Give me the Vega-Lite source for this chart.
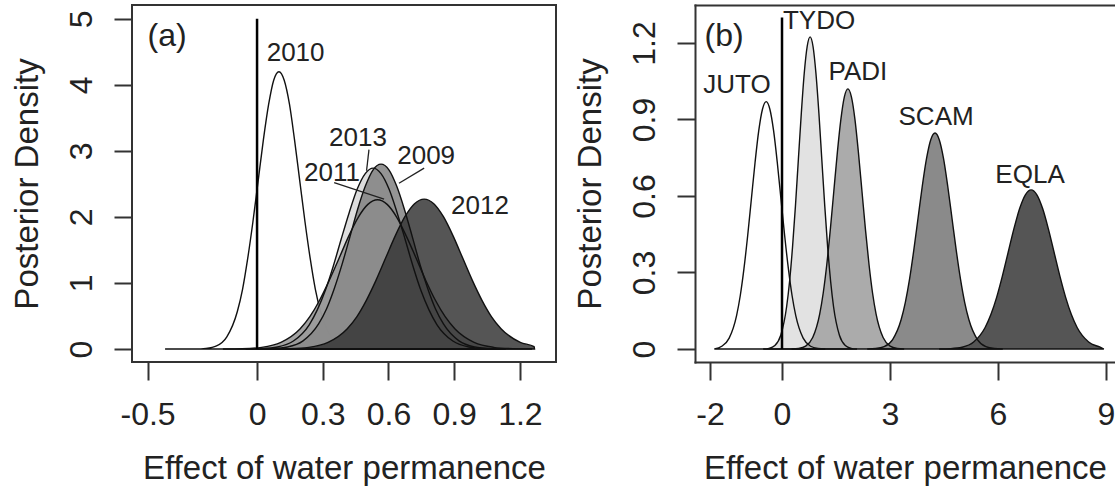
{
"$schema":"https://vega.github.io/schema/vega-lite/v6.json",
"background":"white",
"padding":{"left":10,"top":4,"right":0,"bottom":0},
"bounds":"flush",
"spacing":139,
"config":{
 "font":"Liberation Sans",
 "view":{"stroke":"#333","strokeWidth":2},
 "axis":{"grid":false,"domain":false,"tickColor":"#333","tickWidth":2,"tickSize":18,"labelFont":"Liberation Sans","labelFontSize":32,"labelColor":"#222","titleFont":"Liberation Sans","titleFontSize":33,"titleFontWeight":"normal","titleColor":"#222","labelOverlap":false,"labelFlush":false},
 "axisX":{"labelBaseline":"alphabetic","labelPadding":44,"titleBaseline":"alphabetic","titleY":116},
 "axisY":{"labelAngle":-90,"labelAlign":"center","labelBaseline":"alphabetic","labelPadding":23,"titleBaseline":"alphabetic","titleX":-95}
},
"datasets":{
 "a":[
 {"s":"2010","x":-0.42,"y":0},{"s":"2010","x":-0.28,"y":0},{"s":"2010","x":-0.233,"y":0.0092},{"s":"2010","x":-0.185,"y":0.0466},{"s":"2010","x":-0.138,"y":0.184},{"s":"2010","x":-0.09,"y":0.568},{"s":"2010","x":-0.066,"y":0.908},{"s":"2010","x":-0.043,"y":1.364},{"s":"2010","x":-0.019,"y":1.923},{"s":"2010","x":0.005,"y":2.547},{"s":"2010","x":0.029,"y":3.17},{"s":"2010","x":0.053,"y":3.707},{"s":"2010","x":0.076,"y":4.071},{"s":"2010","x":0.1,"y":4.2},{"s":"2010","x":0.124,"y":4.071},{"s":"2010","x":0.148,"y":3.707},{"s":"2010","x":0.171,"y":3.17},{"s":"2010","x":0.195,"y":2.547},{"s":"2010","x":0.219,"y":1.923},{"s":"2010","x":0.243,"y":1.364},{"s":"2010","x":0.266,"y":0.908},{"s":"2010","x":0.29,"y":0.568},{"s":"2010","x":0.338,"y":0.184},{"s":"2010","x":0.385,"y":0.0466},{"s":"2010","x":0.433,"y":0.0092},{"s":"2010","x":0.48,"y":0},
 {"s":"2013","x":-0.052,"y":0},{"s":"2013","x":0.02,"y":0.006},{"s":"2013","x":0.093,"y":0.0304},{"s":"2013","x":0.166,"y":0.1203},{"s":"2013","x":0.239,"y":0.3707},{"s":"2013","x":0.275,"y":0.5927},{"s":"2013","x":0.312,"y":0.8897},{"s":"2013","x":0.348,"y":1.2544},{"s":"2013","x":0.384,"y":1.6618},{"s":"2013","x":0.421,"y":2.0682},{"s":"2013","x":0.457,"y":2.4181},{"s":"2013","x":0.494,"y":2.6556},{"s":"2013","x":0.53,"y":2.74},{"s":"2013","x":0.566,"y":2.6556},{"s":"2013","x":0.603,"y":2.4181},{"s":"2013","x":0.639,"y":2.0682},{"s":"2013","x":0.676,"y":1.6618},{"s":"2013","x":0.712,"y":1.2544},{"s":"2013","x":0.748,"y":0.8897},{"s":"2013","x":0.785,"y":0.5927},{"s":"2013","x":0.821,"y":0.3707},{"s":"2013","x":0.894,"y":0.1203},{"s":"2013","x":0.967,"y":0.0304},{"s":"2013","x":1.04,"y":0.006},{"s":"2013","x":1.112,"y":0},
 {"s":"2009","x":-0.004,"y":0},{"s":"2009","x":0.067,"y":0.0061},{"s":"2009","x":0.139,"y":0.0311},{"s":"2009","x":0.21,"y":0.1229},{"s":"2009","x":0.281,"y":0.3788},{"s":"2009","x":0.317,"y":0.6056},{"s":"2009","x":0.352,"y":0.9092},{"s":"2009","x":0.388,"y":1.2818},{"s":"2009","x":0.424,"y":1.6982},{"s":"2009","x":0.459,"y":2.1134},{"s":"2009","x":0.495,"y":2.471},{"s":"2009","x":0.53,"y":2.7138},{"s":"2009","x":0.566,"y":2.8},{"s":"2009","x":0.602,"y":2.7138},{"s":"2009","x":0.637,"y":2.471},{"s":"2009","x":0.673,"y":2.1134},{"s":"2009","x":0.709,"y":1.6982},{"s":"2009","x":0.744,"y":1.2818},{"s":"2009","x":0.78,"y":0.9092},{"s":"2009","x":0.815,"y":0.6056},{"s":"2009","x":0.851,"y":0.3788},{"s":"2009","x":0.922,"y":0.1229},{"s":"2009","x":0.994,"y":0.0311},{"s":"2009","x":1.065,"y":0.0061},{"s":"2009","x":1.136,"y":0},
 {"s":"2011","x":-0.156,"y":0},{"s":"2011","x":-0.068,"y":0.0049},{"s":"2011","x":0.021,"y":0.0251},{"s":"2011","x":0.109,"y":0.0992},{"s":"2011","x":0.197,"y":0.3058},{"s":"2011","x":0.241,"y":0.4888},{"s":"2011","x":0.285,"y":0.7338},{"s":"2011","x":0.329,"y":1.0346},{"s":"2011","x":0.374,"y":1.3707},{"s":"2011","x":0.418,"y":1.7058},{"s":"2011","x":0.462,"y":1.9945},{"s":"2011","x":0.506,"y":2.1904},{"s":"2011","x":0.55,"y":2.26},{"s":"2011","x":0.594,"y":2.1904},{"s":"2011","x":0.638,"y":1.9945},{"s":"2011","x":0.682,"y":1.7058},{"s":"2011","x":0.727,"y":1.3707},{"s":"2011","x":0.771,"y":1.0346},{"s":"2011","x":0.815,"y":0.7338},{"s":"2011","x":0.859,"y":0.4888},{"s":"2011","x":0.903,"y":0.3058},{"s":"2011","x":0.991,"y":0.0992},{"s":"2011","x":1.08,"y":0.0251},{"s":"2011","x":1.168,"y":0.0049},{"s":"2011","x":1.256,"y":0},
 {"s":"2012","x":0.06,"y":0},{"s":"2012","x":0.148,"y":0.005},{"s":"2012","x":0.236,"y":0.0252},{"s":"2012","x":0.324,"y":0.0997},{"s":"2012","x":0.412,"y":0.3071},{"s":"2012","x":0.456,"y":0.491},{"s":"2012","x":0.499,"y":0.7371},{"s":"2012","x":0.543,"y":1.0392},{"s":"2012","x":0.587,"y":1.3768},{"s":"2012","x":0.631,"y":1.7134},{"s":"2012","x":0.675,"y":2.0033},{"s":"2012","x":0.719,"y":2.2001},{"s":"2012","x":0.763,"y":2.27},{"s":"2012","x":0.807,"y":2.2001},{"s":"2012","x":0.851,"y":2.0033},{"s":"2012","x":0.895,"y":1.7134},{"s":"2012","x":0.939,"y":1.3768},{"s":"2012","x":0.983,"y":1.0392},{"s":"2012","x":1.027,"y":0.7371},{"s":"2012","x":1.07,"y":0.491},{"s":"2012","x":1.114,"y":0.3071},{"s":"2012","x":1.202,"y":0.0997},{"s":"2012","x":1.265,"y":0.035},{"s":"2012","x":1.267,"y":0}
 ],
 "b":[
 {"s":"JUTO","x":-1.88,"y":0},{"s":"JUTO","x":-1.673,"y":0.0108},{"s":"JUTO","x":-1.468,"y":0.0426},{"s":"JUTO","x":-1.262,"y":0.1312},{"s":"JUTO","x":-1.159,"y":0.2098},{"s":"JUTO","x":-1.057,"y":0.315},{"s":"JUTO","x":-0.954,"y":0.4441},{"s":"JUTO","x":-0.851,"y":0.5883},{"s":"JUTO","x":-0.748,"y":0.7322},{"s":"JUTO","x":-0.646,"y":0.856},{"s":"JUTO","x":-0.543,"y":0.9401},{"s":"JUTO","x":-0.44,"y":0.97},{"s":"JUTO","x":-0.337,"y":0.9401},{"s":"JUTO","x":-0.234,"y":0.856},{"s":"JUTO","x":-0.132,"y":0.7322},{"s":"JUTO","x":-0.029,"y":0.5883},{"s":"JUTO","x":0.074,"y":0.4441},{"s":"JUTO","x":0.177,"y":0.315},{"s":"JUTO","x":0.279,"y":0.2098},{"s":"JUTO","x":0.382,"y":0.1312},{"s":"JUTO","x":0.588,"y":0.0426},{"s":"JUTO","x":0.793,"y":0.0108},{"s":"JUTO","x":0.999,"y":0.0021},{"s":"JUTO","x":1.204,"y":0},
 {"s":"TYDO","x":-0.524,"y":0},{"s":"TYDO","x":-0.361,"y":0.0027},{"s":"TYDO","x":-0.198,"y":0.0136},{"s":"TYDO","x":-0.035,"y":0.0537},{"s":"TYDO","x":0.128,"y":0.1656},{"s":"TYDO","x":0.21,"y":0.2648},{"s":"TYDO","x":0.291,"y":0.3974},{"s":"TYDO","x":0.373,"y":0.5603},{"s":"TYDO","x":0.454,"y":0.7424},{"s":"TYDO","x":0.536,"y":0.9239},{"s":"TYDO","x":0.617,"y":1.0802},{"s":"TYDO","x":0.699,"y":1.1863},{"s":"TYDO","x":0.78,"y":1.224},{"s":"TYDO","x":0.862,"y":1.1863},{"s":"TYDO","x":0.943,"y":1.0802},{"s":"TYDO","x":1.025,"y":0.9239},{"s":"TYDO","x":1.106,"y":0.7424},{"s":"TYDO","x":1.188,"y":0.5603},{"s":"TYDO","x":1.269,"y":0.3974},{"s":"TYDO","x":1.351,"y":0.2648},{"s":"TYDO","x":1.432,"y":0.1656},{"s":"TYDO","x":1.595,"y":0.0537},{"s":"TYDO","x":1.758,"y":0.0136},{"s":"TYDO","x":1.921,"y":0.0027},{"s":"TYDO","x":2.084,"y":0},
 {"s":"PADI","x":0.266,"y":0},{"s":"PADI","x":0.462,"y":0.0022},{"s":"PADI","x":0.657,"y":0.0113},{"s":"PADI","x":0.853,"y":0.0448},{"s":"PADI","x":1.048,"y":0.138},{"s":"PADI","x":1.146,"y":0.2206},{"s":"PADI","x":1.244,"y":0.3312},{"s":"PADI","x":1.341,"y":0.467},{"s":"PADI","x":1.439,"y":0.6186},{"s":"PADI","x":1.537,"y":0.7699},{"s":"PADI","x":1.635,"y":0.9002},{"s":"PADI","x":1.732,"y":0.9886},{"s":"PADI","x":1.83,"y":1.02},{"s":"PADI","x":1.928,"y":0.9886},{"s":"PADI","x":2.026,"y":0.9002},{"s":"PADI","x":2.123,"y":0.7699},{"s":"PADI","x":2.221,"y":0.6186},{"s":"PADI","x":2.319,"y":0.467},{"s":"PADI","x":2.417,"y":0.3312},{"s":"PADI","x":2.514,"y":0.2206},{"s":"PADI","x":2.612,"y":0.138},{"s":"PADI","x":2.808,"y":0.0448},{"s":"PADI","x":3.003,"y":0.0113},{"s":"PADI","x":3.199,"y":0.0022},{"s":"PADI","x":3.394,"y":0},
 {"s":"SCAM","x":2.366,"y":0},{"s":"SCAM","x":2.602,"y":0.0019},{"s":"SCAM","x":2.837,"y":0.0094},{"s":"SCAM","x":3.073,"y":0.0372},{"s":"SCAM","x":3.308,"y":0.1146},{"s":"SCAM","x":3.426,"y":0.1832},{"s":"SCAM","x":3.544,"y":0.275},{"s":"SCAM","x":3.661,"y":0.3878},{"s":"SCAM","x":3.779,"y":0.5137},{"s":"SCAM","x":3.897,"y":0.6393},{"s":"SCAM","x":4.015,"y":0.7475},{"s":"SCAM","x":4.132,"y":0.8209},{"s":"SCAM","x":4.25,"y":0.847},{"s":"SCAM","x":4.368,"y":0.8209},{"s":"SCAM","x":4.486,"y":0.7475},{"s":"SCAM","x":4.603,"y":0.6393},{"s":"SCAM","x":4.721,"y":0.5137},{"s":"SCAM","x":4.839,"y":0.3878},{"s":"SCAM","x":4.957,"y":0.275},{"s":"SCAM","x":5.074,"y":0.1832},{"s":"SCAM","x":5.192,"y":0.1146},{"s":"SCAM","x":5.428,"y":0.0372},{"s":"SCAM","x":5.663,"y":0.0094},{"s":"SCAM","x":5.899,"y":0.0019},{"s":"SCAM","x":6.134,"y":0},
 {"s":"EQLA","x":4.364,"y":0},{"s":"EQLA","x":4.684,"y":0.0014},{"s":"EQLA","x":5.003,"y":0.0069},{"s":"EQLA","x":5.323,"y":0.0274},{"s":"EQLA","x":5.642,"y":0.0844},{"s":"EQLA","x":5.802,"y":0.135},{"s":"EQLA","x":5.962,"y":0.2026},{"s":"EQLA","x":6.121,"y":0.2857},{"s":"EQLA","x":6.281,"y":0.3785},{"s":"EQLA","x":6.441,"y":0.471},{"s":"EQLA","x":6.601,"y":0.5507},{"s":"EQLA","x":6.76,"y":0.6048},{"s":"EQLA","x":6.92,"y":0.624},{"s":"EQLA","x":7.08,"y":0.6048},{"s":"EQLA","x":7.24,"y":0.5507},{"s":"EQLA","x":7.399,"y":0.471},{"s":"EQLA","x":7.559,"y":0.3785},{"s":"EQLA","x":7.719,"y":0.2857},{"s":"EQLA","x":7.879,"y":0.2026},{"s":"EQLA","x":8.038,"y":0.135},{"s":"EQLA","x":8.198,"y":0.0844},{"s":"EQLA","x":8.518,"y":0.0274},{"s":"EQLA","x":8.837,"y":0.0069},{"s":"EQLA","x":8.94,"y":0}
 ],
 "vA":[{"x":0,"y":0,"y2":5}],
 "vB":[{"x":0,"y":0,"y2":1.3}],
 "labA":[{"t":"2010","x":0.176,"y":4.48},{"t":"2013","x":0.461,"y":3.2},{"t":"2011","x":0.342,"y":2.67},{"t":"2009","x":0.772,"y":2.92},{"t":"2012","x":1.018,"y":2.17}],
 "panA":[{"t":"(a)","x":-0.411,"y":4.74}],
 "leadA":[{"x":0.511,"y":3.02,"x2":0.5,"y2":2.7},{"x":0.352,"y":2.52,"x2":0.58,"y2":2.27},{"x":0.763,"y":2.74,"x2":0.648,"y2":2.51}],
 "labB":[{"t":"JUTO","x":-1.25,"y":1.035},{"t":"TYDO","x":1.03,"y":1.286},{"t":"PADI","x":2.11,"y":1.086},{"t":"SCAM","x":4.28,"y":0.91},{"t":"EQLA","x":6.89,"y":0.682}],
 "panB":[{"t":"(b)","x":-1.61,"y":1.227}]
},
"hconcat":[
 {
  "width":424,"height":357,
  "encoding":{
   "x":{"field":"x","type":"quantitative","scale":{"domain":[-0.571,1.365],"nice":false,"zero":false},"axis":{"orient":"bottom","values":[-0.5,0,0.3,0.6,0.9,1.2],"title":"Effect of water permanence","labelExpr":"datum.value == 0 ? '0' : replace(datum.label,'\u2212','-')"}},
   "y":{"field":"y","type":"quantitative","stack":null,"scale":{"domain":[-0.197,5.21],"nice":false,"zero":false},"axis":{"values":[0,1,2,3,4,5],"title":"Posterior Density"}}
  },
  "layer":[
   {"data":{"name":"a"},"transform":[{"filter":"datum.s==='2010'"}],
    "mark":{"type":"area","fill":"white","stroke":"#111","strokeWidth":1.4,"interpolate":"monotone"}},
   {"data":{"name":"a"},"transform":[{"filter":"datum.s==='2013'"}],
    "mark":{"type":"area","fill":"#d4d4d4","fillOpacity":0.8,"interpolate":"monotone"}},
   {"data":{"name":"a"},"transform":[{"filter":"datum.s==='2009'"}],
    "mark":{"type":"area","fill":"#7a7a7a","fillOpacity":0.8,"interpolate":"monotone"}},
   {"data":{"name":"a"},"transform":[{"filter":"datum.s==='2011'"}],
    "mark":{"type":"area","fill":"#8c8c8c","fillOpacity":0.8,"interpolate":"monotone"}},
   {"data":{"name":"a"},"transform":[{"filter":"datum.s==='2012'"}],
    "mark":{"type":"area","fill":"#373737","fillOpacity":0.85,"interpolate":"monotone"}},
   {"data":{"name":"a"},"transform":[{"filter":"datum.s!=='2010'"}],
    "mark":{"type":"area","fillOpacity":0,"stroke":"#111","strokeWidth":1.4,"interpolate":"monotone"},
    "encoding":{"detail":{"field":"s"}}},
   {"data":{"name":"vA"},
    "mark":{"type":"rule","stroke":"#000","strokeWidth":2.5},
    "encoding":{"y2":{"field":"y2"}}},
   {"data":{"name":"leadA"},
    "mark":{"type":"rule","stroke":"#222","strokeWidth":1.3},
    "encoding":{"x2":{"field":"x2"},"y2":{"field":"y2"}}},
   {"data":{"name":"labA"},
    "mark":{"type":"text","font":"Liberation Sans","fontSize":26,"color":"#222","align":"center","baseline":"middle"},
    "encoding":{"text":{"field":"t"}}},
   {"data":{"name":"panA"},
    "mark":{"type":"text","font":"Liberation Sans","fontSize":32,"color":"#222","align":"center","baseline":"middle"},
    "encoding":{"text":{"field":"t"}}}
  ]
 },
 {
  "width":420,"height":357,
  "view":{"stroke":null},
  "layer":[
   {
    "encoding":{
     "x":{"field":"x","type":"quantitative","scale":{"domain":[-2.417,9.25],"nice":false,"zero":false},"axis":{"orient":"bottom","values":[-2,0,3,6,9],"title":"Effect of water permanence","domain":true,"domainColor":"#333","domainWidth":2,"domainCap":"square","labelExpr":"datum.value == 0 ? '0' : replace(datum.label,'\u2212','-')"}},
     "y":{"field":"y","type":"quantitative","stack":null,"scale":{"domain":[-0.051,1.349],"nice":false,"zero":false},"axis":{"values":[0,0.3,0.6,0.9,1.2],"title":"Posterior Density","domain":true,"domainColor":"#333","domainWidth":2,"domainCap":"square","labelExpr":"datum.value == 0 ? '0' : datum.label"}}
    },
    "layer":[
     {"data":{"name":"b"},"transform":[{"filter":"datum.s==='JUTO'"}],
      "mark":{"type":"area","fill":"white","interpolate":"monotone"}},
     {"data":{"name":"b"},"transform":[{"filter":"datum.s==='TYDO'"}],
      "mark":{"type":"area","fill":"#e2e2e2","interpolate":"monotone"}},
     {"data":{"name":"b"},"transform":[{"filter":"datum.s==='PADI'"}],
      "mark":{"type":"area","fill":"#ababab","interpolate":"monotone"}},
     {"data":{"name":"b"},"transform":[{"filter":"datum.s==='SCAM'"}],
      "mark":{"type":"area","fill":"#8a8a8a","interpolate":"monotone"}},
     {"data":{"name":"b"},"transform":[{"filter":"datum.s==='EQLA'"}],
      "mark":{"type":"area","fill":"#555555","interpolate":"monotone"}},
     {"data":{"name":"b"},
      "mark":{"type":"area","fillOpacity":0,"stroke":"#111","strokeWidth":1.4,"interpolate":"monotone"},
      "encoding":{"detail":{"field":"s"}}},
     {"data":{"name":"labB"},
      "mark":{"type":"text","font":"Liberation Sans","fontSize":26,"color":"#222","align":"center","baseline":"middle"},
      "encoding":{"text":{"field":"t"}}},
     {"data":{"name":"panB"},
      "mark":{"type":"text","font":"Liberation Sans","fontSize":32,"color":"#222","align":"center","baseline":"middle"},
      "encoding":{"text":{"field":"t"}}}
    ]
   },
   {"data":{"name":"vB"},
    "mark":{"type":"rule","stroke":"#000","strokeWidth":2.5},
    "encoding":{
     "x":{"field":"x","type":"quantitative","scale":{"domain":[-2.417,9.25],"nice":false,"zero":false},"axis":{"orient":"top","labels":false,"ticks":false,"domain":true,"domainColor":"#333","domainWidth":2,"domainCap":"square","title":null}},
     "y":{"field":"y","type":"quantitative","stack":null,"scale":{"domain":[-0.051,1.349],"nice":false,"zero":false},"axis":{"values":[0,0.3,0.6,0.9,1.2],"title":"Posterior Density","domain":true,"domainColor":"#333","domainWidth":2,"domainCap":"square","labelExpr":"datum.value == 0 ? '0' : datum.label"}},
     "y2":{"field":"y2"}}}
  ]
 }
]
}
